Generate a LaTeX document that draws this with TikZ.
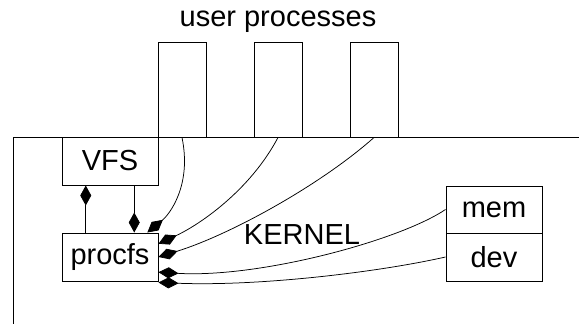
\documentclass[tikz,border=0pt]{standalone}
\usepackage{fontspec}
\setmainfont{Liberation Sans}
\usetikzlibrary{arrows.meta,calc}
\begin{document}
\begin{tikzpicture}[x=1pt,y=-1pt,line width=1pt,
  box/.style={draw,inner sep=0pt,minimum width=96pt,minimum height=48pt,font=\fontsize{29}{33}\selectfont},
  proc/.style={draw,inner sep=0pt,minimum width=48pt,minimum height=95pt},
  lbl/.style={inner sep=0pt,font=\fontsize{29}{33}\selectfont},
  link/.style={line width=0.75pt,-{Diamond[length=20pt,width=11pt]}}]
\useasboundingbox (0,0) rectangle (579,324);
% kernel boundary
\coordinate (kl) at (13,324);
\coordinate (kc) at (13,137);
\coordinate (kr) at (579,137);
\draw (kl) -- (kc) -- (kr);
% user processes
\node[lbl] (ulabel) at (278,22) {user processes};
\node[proc] (u1) at (182,89.5) {};
\node[proc] (u2) at (278,89.5) {};
\node[proc] (u3) at (374,89.5) {};
% kernel components
\node[box] (vfs) at (110,161) {VFS};
\node[box] (procfs) at (110,257) {procfs};
\node[box,minimum height=47pt] (mem) at (494,209.5) {mem};
\node[box] (dev) at (494,257) {dev};
\node[lbl] (kernel) at (302,235) {KERNEL};
% end points on procfs
\coordinate (t1) at ($(procfs.north west)!0.885!(procfs.north east)$);
\coordinate (t2) at ($(procfs.north east)!0.23!(procfs.south east)$);
\coordinate (t3) at ($(procfs.north east)!0.5!(procfs.south east)$);
\coordinate (t4) at ($(procfs.north east)!0.81!(procfs.south east)$);
\coordinate (t5) at ($(procfs.north east)!1.02!(procfs.south east)$);
% VFS <-> procfs
\draw[link] ($(procfs.north west)!0.25!(procfs.north east)$) -- ($(vfs.south west)!0.25!(vfs.south east)$);
\draw[link] ($(vfs.south west)!0.75!(vfs.south east)$) -- ($(procfs.north west)!0.75!(procfs.north east)$);
% processes and devices into procfs
\draw[link] (u1.south) .. controls +(10,48) and +(22,-18) .. (t1);
\draw[link] (u2.south) .. controls +(-28,53) and +(41,-19) .. (t2);
\draw[link] (u3.south) .. controls +(-54,48) and +(71,-22) .. (t3);
\draw[link] (mem.west) .. controls +(-46,31) and +(101,6) .. (t4);
\draw[link] (dev.west) .. controls +(-66,15) and +(101,4) .. (t5);
\end{tikzpicture}
\end{document}
